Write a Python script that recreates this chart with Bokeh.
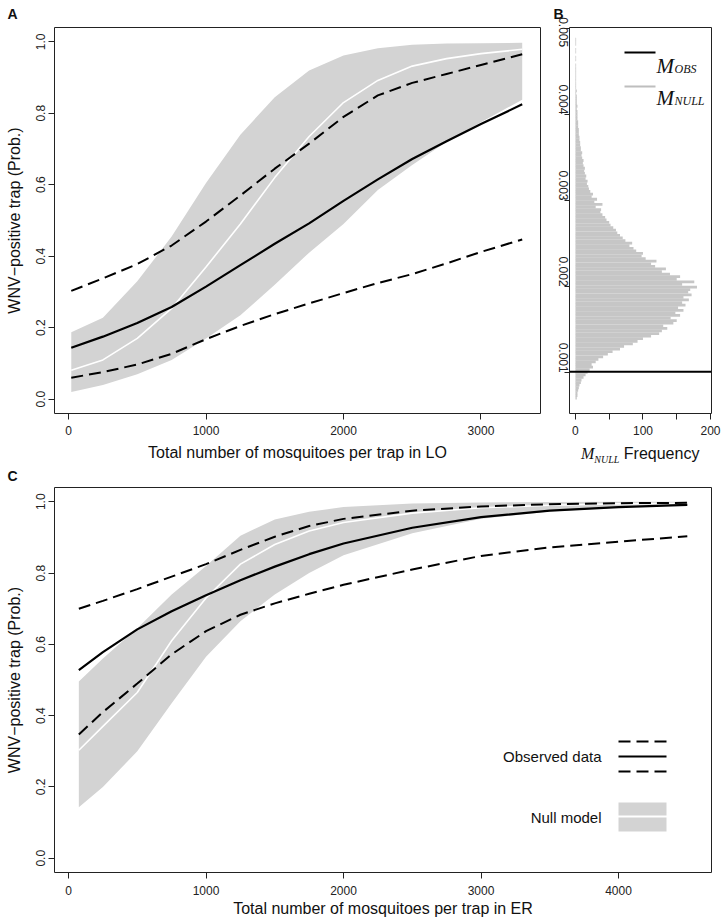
import math
from bokeh.plotting import figure
from bokeh.models import (FixedTicker, Label, Span, BoxAnnotation, Arrow, Range1d,
                          PrintfTickFormatter, Div)
from bokeh.layouts import column, row
from bokeh.embed import file_html
from bokeh.resources import INLINE

FONT = "Liberation Sans"
SERIF = "Liberation Serif"

# ---------------- Panel A data (LO) ----------------
x_a = [20, 250, 500, 750, 1000, 1250, 1500, 1750, 2000, 2250, 2500, 2750, 3000, 3300]
null_upper_a = [0.187, 0.228, 0.33, 0.455, 0.605, 0.74, 0.845, 0.92, 0.962, 0.982, 0.992, 0.995, 0.996, 0.997]
null_lower_a = [0.02, 0.04, 0.07, 0.11, 0.17, 0.235, 0.32, 0.41, 0.49, 0.585, 0.655, 0.72, 0.775, 0.838]
null_median_a = [0.081, 0.11, 0.17, 0.254, 0.37, 0.49, 0.62, 0.735, 0.83, 0.892, 0.932, 0.953, 0.967, 0.979]
obs_fit_a = [0.144, 0.175, 0.213, 0.258, 0.315, 0.375, 0.435, 0.492, 0.555, 0.615, 0.672, 0.722, 0.770, 0.825]
obs_upper_a = [0.303, 0.338, 0.378, 0.43, 0.497, 0.57, 0.645, 0.715, 0.79, 0.85, 0.885, 0.91, 0.935, 0.965]
obs_lower_a = [0.06, 0.076, 0.097, 0.127, 0.168, 0.205, 0.238, 0.268, 0.297, 0.325, 0.35, 0.38, 0.412, 0.447]

# ---------------- Panel C data (ER) ----------------
x_c = [75, 250, 500, 750, 1000, 1250, 1500, 1750, 2000, 2500, 3000, 3500, 4000, 4500]
null_upper_c = [0.496, 0.56, 0.645, 0.74, 0.82, 0.905, 0.95, 0.972, 0.985, 0.995, 0.998, 0.999, 1.0, 1.0]
null_lower_c = [0.143, 0.2, 0.3, 0.435, 0.565, 0.665, 0.74, 0.8, 0.85, 0.912, 0.952, 0.973, 0.984, 0.99]
null_median_c = [0.303, 0.37, 0.465, 0.61, 0.73, 0.825, 0.88, 0.918, 0.942, 0.968, 0.983, 0.99, 0.994, 0.996]
obs_fit_c = [0.528, 0.578, 0.642, 0.693, 0.738, 0.78, 0.818, 0.853, 0.883, 0.927, 0.957, 0.975, 0.985, 0.991]
obs_upper_c = [0.70, 0.722, 0.755, 0.79, 0.825, 0.865, 0.902, 0.932, 0.952, 0.975, 0.987, 0.993, 0.996, 0.997]
obs_lower_c = [0.347, 0.41, 0.49, 0.572, 0.637, 0.683, 0.715, 0.742, 0.767, 0.81, 0.848, 0.872, 0.888, 0.903]

# ---------------- Panel B data (null distribution of M) ----------------
hist_bin_start = 0.00069
hist_bin_width = 0.00003
hist_freq = [2, 3, 3, 4, 5, 6, 8, 9, 12, 15,
             18, 21, 26, 24, 30, 34, 41, 48, 55, 66,
             72, 85, 92, 100, 112, 124, 128, 136, 130, 145,
             150, 141, 155, 148, 160, 152, 163, 158, 168, 160,
             172, 167, 170, 180, 158, 176, 150, 155, 140, 128,
             134, 118, 112, 120, 104, 98, 100, 90, 86, 80,
             84, 74, 70, 66, 62, 60, 56, 52, 50, 46,
             44, 40, 37, 38, 30, 40, 28, 32, 24, 26,
             22, 20, 19, 17, 18, 15, 16, 14, 13, 14,
             12, 11, 12, 10, 9, 10, 8, 8, 7, 7,
             6, 6, 5, 5, 5, 4, 4, 4, 3, 3,
             3, 3, 2, 3, 2, 2, 2, 2, 1, 2,
             1, 1, 1, 1, 1, 1, 1, 1, 1, 1,
             0, 1, 1, 0, 1, 1, 0, 1, 1, 1]
m_obs = 0.00101

prob_ticks = [0.0, 0.2, 0.4, 0.6, 0.8, 1.0]
x_ticks_a = [0, 1000, 2000, 3000]
x_ticks_c = [0, 1000, 2000, 3000, 4000]
freq_ticks = [0, 50, 100, 150, 200]
freq_tick_labels = ["0", "", "100", "", "200"]
m_ticks = [0.001, 0.002, 0.003, 0.004, 0.005]
m_tick_labels = ["0.001", "0.002", "0.003", "0.004", "0.005"]

BAND = "#d3d3d3"
DASH = "12 6"
NB = "\u00a0" * 5   # R draws these rotated labels starting at the tick


def style(p, xticks, yticks, yfmt, xfmt="%d", yorient="vertical"):
    p.outline_line_color = "#222222"
    p.outline_line_width = 1
    p.xgrid.visible = False
    p.ygrid.visible = False
    p.background_fill_color = "white"
    p.border_fill_color = "white"
    for ax in (p.xaxis[0], p.yaxis[0]):
        ax.axis_line_color = None
        ax.minor_tick_line_color = None
        ax.major_tick_out = 6
        ax.major_tick_in = 0
        ax.major_tick_line_color = "#222222"
        ax.major_label_text_font = FONT
        ax.major_label_text_font_size = "12px"
        ax.major_label_text_color = "#222222"
        ax.axis_label_text_font = FONT
        ax.axis_label_text_font_size = "16px"
        ax.axis_label_text_font_style = "normal"
        ax.axis_label_text_color = "#111111"
    p.xaxis[0].ticker = FixedTicker(ticks=xticks)
    p.yaxis[0].ticker = FixedTicker(ticks=yticks)
    p.xaxis[0].formatter = PrintfTickFormatter(format=xfmt)
    p.yaxis[0].formatter = PrintfTickFormatter(format=yfmt)
    p.yaxis[0].major_label_orientation = yorient


def panel_title(p, text, offset, standoff):
    p.title.text = text
    p.title.text_font = FONT
    p.title.text_font_size = "14px"
    p.title.text_font_style = "bold"
    p.title.text_color = "#111111"
    p.title.align = "left"
    p.title.offset = offset
    p.title.standoff = standoff
    p.title.vertical_align = "top"


def curves(p, x, lo, hi, med, fit, up, low):
    p.varea(x=x, y1=lo, y2=hi, fill_color=BAND, fill_alpha=1.0)
    p.line(x, med, line_color="white", line_width=1.6)
    p.line(x, up, line_color="black", line_width=2, line_dash=DASH)
    p.line(x, low, line_color="black", line_width=2, line_dash=DASH)
    p.line(x, fit, line_color="black", line_width=2.2)


# ---------------- Panel A ----------------
pA = figure(width=545, height=465, x_range=Range1d(-102, 3433), y_range=Range1d(-0.04, 1.04),
            min_border_left=54, min_border_right=5, min_border_top=27, min_border_bottom=52,
            output_backend="svg", toolbar_location=None)
style(pA, x_ticks_a, prob_ticks, "%.1f")
panel_title(pA, "A", -47, 8)
pA.xaxis[0].axis_label = "Total number of mosquitoes per trap in LO"
pA.yaxis[0].axis_label = "WNV\u2212positive trap (Prob.)"
pA.xaxis[0].major_label_standoff = 6
pA.xaxis[0].axis_label_standoff = 6
pA.yaxis[0].major_label_standoff = 3
pA.yaxis[0].axis_label_standoff = 11
curves(pA, x_a, null_lower_a, null_upper_a, null_median_a, obs_fit_a, obs_upper_a, obs_lower_a)

# ---------------- Panel B ----------------
pB = figure(width=176, height=443, x_range=Range1d(-8.8, 201.5), y_range=Range1d(0.000526, 0.00501),
            min_border_left=23, min_border_right=10, min_border_top=27, min_border_bottom=30,
            output_backend="svg", toolbar_location=None)
style(pB, freq_ticks, m_ticks, "%.3f", yorient=-math.pi / 2)
panel_title(pB, "B", -16, 8)
pB.xaxis[0].major_label_overrides = dict(zip(freq_ticks, freq_tick_labels))
pB.yaxis[0].major_label_overrides = {t: NB + s for t, s in zip(m_ticks, m_tick_labels)}
pB.xaxis[0].major_label_standoff = 6
pB.yaxis[0].major_label_standoff = 2
pB.yaxis[0].major_tick_out = 5
centers = [hist_bin_start + (i + 0.5) * hist_bin_width for i in range(len(hist_freq))]
pB.hbar(y=centers, left=0, right=hist_freq, height=hist_bin_width * 1.08,
        fill_color="#c6c6c6", line_color=None)
pB.add_layout(Span(location=m_obs, dimension="width", line_color="black", line_width=2))
# legend
pB.add_layout(Arrow(end=None, x_start=55, y_start=361, x_end=86, y_end=361,
                    start_units="screen", end_units="screen", line_color="black", line_width=2))
pB.add_layout(Arrow(end=None, x_start=55, y_start=327, x_end=86, y_end=327,
                    start_units="screen", end_units="screen", line_color="#bebebe", line_width=2))
for (yy, sub) in ((348, "OBS"), (316, "NULL")):
    pB.add_layout(Label(x=87, y=yy, x_units="screen", y_units="screen", text="M",
                        text_font=SERIF, text_font_style="italic", text_font_size="21px",
                        text_baseline="alphabetic", text_color="#111111"))
    pB.add_layout(Label(x=105, y=yy - 3, x_units="screen", y_units="screen", text=sub,
                        text_font=SERIF, text_font_style="italic", text_font_size="12px",
                        text_baseline="alphabetic", text_color="#111111"))

# x-axis title of panel B: "M_NULL Frequency" (mixed styles, so written as HTML text)
divB = Div(text=('<div style="position:absolute;left:36px;top:0px;white-space:nowrap;'
                 'font-family:\'Liberation Sans\';font-size:16px;color:#111;">'
                 '<span style="font-family:\'Liberation Serif\';font-style:italic;font-size:16px;">M</span>'
                 '<span style="font-family:\'Liberation Serif\';font-style:italic;font-size:10px;'
                 'position:relative;top:4px;">NULL</span> Frequency</div>'),
           width=176, height=22, margin=(0, 0, 0, 0),
           styles={"position": "relative", "overflow": "visible"})

# ---------------- Panel C ----------------
pC = figure(width=721, height=455, x_range=Range1d(-102, 4676), y_range=Range1d(-0.04, 1.04),
            min_border_left=54, min_border_right=10, min_border_top=20, min_border_bottom=48,
            output_backend="svg", toolbar_location=None)
style(pC, x_ticks_c, prob_ticks, "%.1f")
panel_title(pC, "C", -47, 4)
pC.xaxis[0].axis_label = "Total number of mosquitoes per trap in ER"
pC.yaxis[0].axis_label = "WNV\u2212positive trap (Prob.)"
pC.xaxis[0].major_label_standoff = 7
pC.xaxis[0].axis_label_standoff = 2
pC.yaxis[0].major_label_standoff = 3
pC.yaxis[0].axis_label_standoff = 11
curves(pC, x_c, null_lower_c, null_upper_c, null_median_c, obs_fit_c, obs_upper_c, obs_lower_c)

# legend of panel C
pC.add_layout(Label(x=547, y=116, x_units="screen", y_units="screen", text="Observed data",
                    text_font=FONT, text_font_size="15px", text_align="right",
                    text_baseline="middle", text_color="#111111"))
pC.add_layout(Label(x=547, y=55, x_units="screen", y_units="screen", text="Null model",
                    text_font=FONT, text_font_size="15px", text_align="right",
                    text_baseline="middle", text_color="#111111"))
for yy, dash in ((131, DASH), (116, "solid"), (101, DASH)):
    pC.add_layout(Arrow(end=None, x_start=564, y_start=yy, x_end=612, y_end=yy,
                        start_units="screen", end_units="screen", line_color="black",
                        line_width=2, line_dash=dash))
pC.add_layout(BoxAnnotation(left=564, right=612, bottom=57, top=70, left_units="screen",
                            right_units="screen", bottom_units="screen", top_units="screen",
                            fill_color=BAND, fill_alpha=1.0, line_color=None))
pC.add_layout(BoxAnnotation(left=564, right=612, bottom=41, top=55, left_units="screen",
                            right_units="screen", bottom_units="screen", top_units="screen",
                            fill_color=BAND, fill_alpha=1.0, line_color=None))

layout = column(row(pA, column(pB, divB)), pC)
open("out.html", "w").write(file_html(layout, INLINE))
